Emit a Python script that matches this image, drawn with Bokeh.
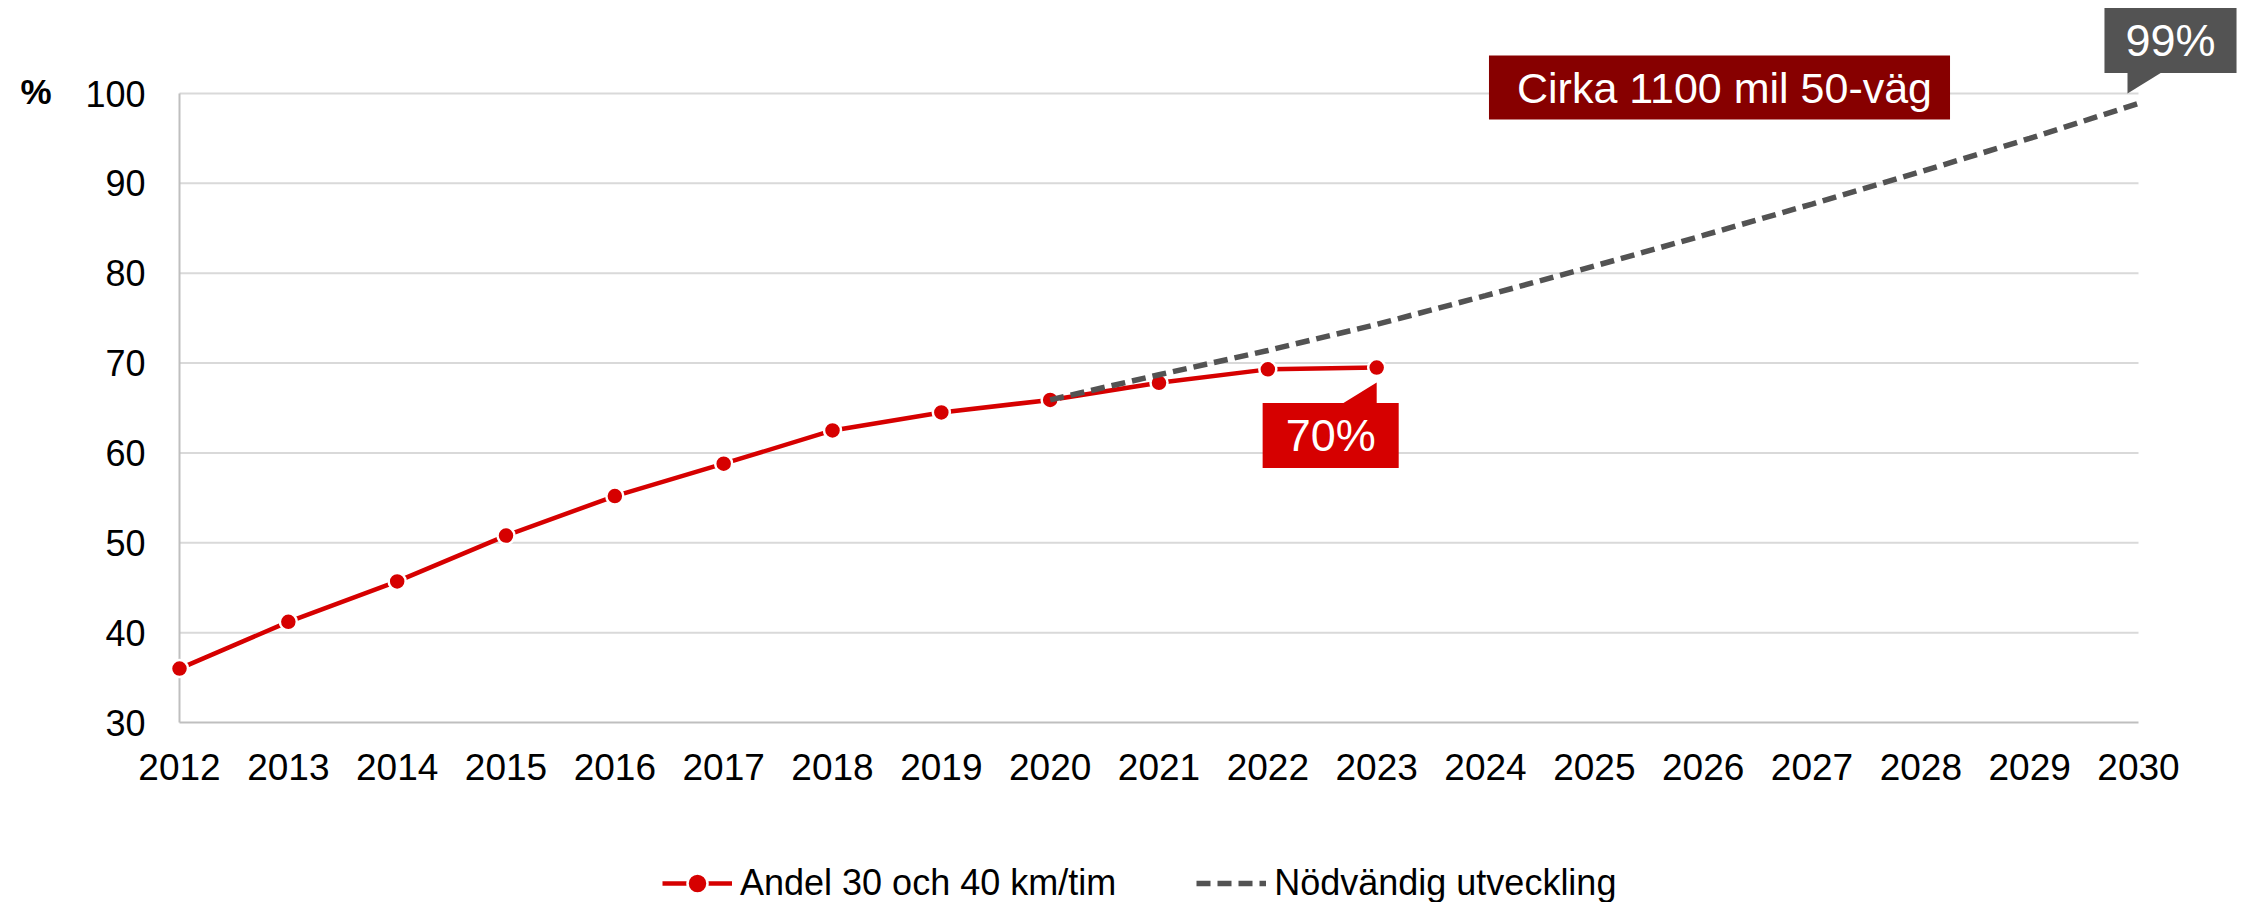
from bokeh.plotting import figure
from bokeh.models import Range1d, Label, Legend, LegendItem, PolyAnnotation
from bokeh.core.properties import value
from bokeh.embed import file_html
from bokeh.resources import INLINE

# ---------------- data ----------------
YEARS_ACTUAL = [2012, 2013, 2014, 2015, 2016, 2017, 2018, 2019, 2020, 2021, 2022, 2023]
ANDEL = [36.0, 41.2, 45.7, 50.8, 55.2, 58.8, 62.5, 64.5, 65.9, 67.8, 69.3, 69.5]

YEARS_NEED = [2020, 2021, 2022, 2023, 2024, 2025, 2026, 2027, 2028, 2029, 2030]
NODVANDIG = [65.9, 68.7, 71.4, 74.3, 77.5, 80.8, 84.2, 87.7, 91.3, 95.0, 98.9]

X_TICKS = [2012, 2013, 2014, 2015, 2016, 2017, 2018, 2019, 2020, 2021,
           2022, 2023, 2024, 2025, 2026, 2027, 2028, 2029, 2030]
Y_TICKS = [30, 40, 50, 60, 70, 80, 90, 100]

SERIES = ["Andel 30 och 40 km/tim", "Nödvändig utveckling"]
LABEL_ACTUAL = "70%"
LABEL_NEED = "99%"
NOTE = "Cirka 1100 mil 50-väg"
UNIT = "%"

# ---------------- style / layout ----------------
FONT = "Liberation Sans"
RED = "#D60000"
DARKRED = "#870000"
GREY = "#535353"
GRID = "#D9D9D9"
AXIS = "#BFBFBF"

W, H = 2255, 902
# pixel box of the plotting area inside the canvas
PLOT_L, PLOT_R, PLOT_T, PLOT_B = 179, 2138, 93, 722

PX_X = (PLOT_R - PLOT_L) / (X_TICKS[-1] - X_TICKS[0])
PX_Y = (PLOT_B - PLOT_T) / (Y_TICKS[-1] - Y_TICKS[0])


def dx(px):
    return px / PX_X


def dy(px):
    return px / PX_Y


x_start = X_TICKS[0] - dx(PLOT_L)
x_end = X_TICKS[-1] + dx(W - PLOT_R)
y_end = Y_TICKS[-1] + dy(PLOT_T)
y_start = Y_TICKS[0] - dy(H - PLOT_B)

p = figure(
    width=W, height=H,
    x_range=Range1d(x_start, x_end), y_range=Range1d(y_start, y_end),
    output_backend="svg", toolbar_location=None, min_border=0,
)
p.outline_line_color = None
p.background_fill_color = "white"
p.border_fill_color = "white"
p.grid.visible = False
p.axis.visible = False

# grid lines, axis lines
n = len(Y_TICKS) - 1
p.segment(x0=[X_TICKS[0]] * n, x1=[X_TICKS[-1]] * n, y0=Y_TICKS[1:], y1=Y_TICKS[1:],
          line_color=GRID, line_width=2)
p.segment(x0=[X_TICKS[0], X_TICKS[0]], x1=[X_TICKS[0], X_TICKS[-1]],
          y0=[Y_TICKS[0], Y_TICKS[0]], y1=[Y_TICKS[-1], Y_TICKS[0]],
          line_color=AXIS, line_width=2)

# tick labels
p.text(x=X_TICKS, y=[Y_TICKS[0] - dy(44)] * len(X_TICKS), text=[str(t) for t in X_TICKS],
       text_align="center", text_baseline="middle", text_color="black",
       text_font=value(FONT), text_font_size="37px")
p.text(x=[X_TICKS[0] - dx(34)] * len(Y_TICKS), y=Y_TICKS, text=[str(t) for t in Y_TICKS],
       text_align="right", text_baseline="middle", text_color="black",
       text_font=value(FONT), text_font_size="36px")

# series
r_line = p.line(YEARS_ACTUAL, ANDEL, line_color=RED, line_width=4.5)
r_pts = p.scatter(YEARS_ACTUAL, ANDEL, size=17, fill_color=RED, line_color="white", line_width=2.5)
r_need = p.line(YEARS_NEED, NODVANDIG, line_color=GREY, line_width=5.5,
                line_dash="14 7")

# legend
legend = Legend(
    items=[LegendItem(label=SERIES[0], renderers=[r_line, r_pts]),
           LegendItem(label=SERIES[1], renderers=[r_need])],
    orientation="horizontal", location=(662, -6),
    glyph_width=70, glyph_height=50, label_standoff=8, spacing=80,
    padding=0, margin=0, border_line_color=None, background_fill_alpha=0,
    label_text_font=FONT, label_text_font_size="36px", label_text_color="black",
)
p.add_layout(legend)

# callout: 70% at last actual point
ax_a, ay_a = YEARS_ACTUAL[-1], ANDEL[-1]
p.add_layout(PolyAnnotation(
    xs=[ax_a, ax_a, ax_a - dx(34)], ys=[ay_a - dy(15), ay_a - dy(36), ay_a - dy(36)],
    xs_units="data", ys_units="data",
    fill_color=RED, fill_alpha=1, line_color=None))
p.add_layout(Label(
    x=ax_a, y=ay_a, x_offset=-46, y_offset=-68, text=LABEL_ACTUAL,
    text_align="center", text_baseline="middle", text_color="white",
    text_font=FONT, text_font_size="45px",
    background_fill_color=RED, background_fill_alpha=1,
    padding=dict(left=23, right=23, top=7, bottom=7)))

# callout: 99% at end of necessary development
ax_n, ay_n = YEARS_NEED[-1], NODVANDIG[-1]
p.add_layout(PolyAnnotation(
    xs=[ax_n - dx(11), ax_n - dx(11), ax_n + dx(23)],
    ys=[ay_n + dy(10), ay_n + dy(31), ay_n + dy(31)],
    xs_units="data", ys_units="data",
    fill_color=GREY, fill_alpha=1, line_color=None))
p.add_layout(Label(
    x=ax_n, y=ay_n, x_offset=32, y_offset=63, text=LABEL_NEED,
    text_align="center", text_baseline="middle", text_color="white",
    text_font=FONT, text_font_size="45px",
    background_fill_color=GREY, background_fill_alpha=1,
    padding=dict(left=21, right=21, top=7, bottom=7)))

# note box
p.add_layout(Label(
    x=X_TICKS[0] + dx(1540), y=Y_TICKS[-1] + dy(6), text=NOTE,
    text_align="center", text_baseline="middle", text_color="white",
    text_font=FONT, text_font_size="43px",
    background_fill_color=DARKRED, background_fill_alpha=1,
    padding=dict(left=28, right=18, top=8, bottom=8)))

# unit label
p.add_layout(Label(
    x=X_TICKS[0] - dx(159), y=Y_TICKS[-1], y_offset=2, text=UNIT,
    text_align="left", text_baseline="middle", text_color="black",
    text_font=FONT, text_font_size="35px", text_font_style="bold"))

open("out.html", "w").write(file_html(p, INLINE))
